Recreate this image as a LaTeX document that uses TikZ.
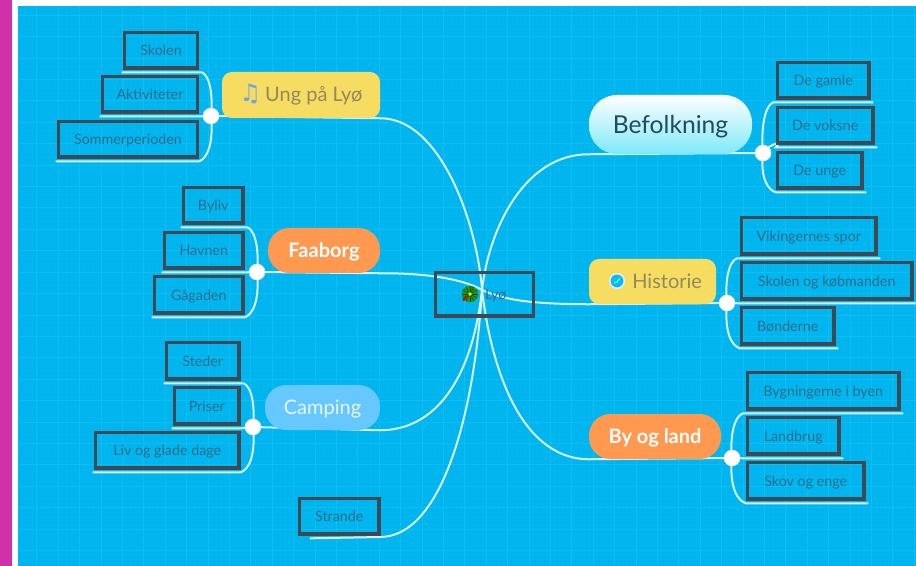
\documentclass[tikz,border=0pt]{standalone}
\usepackage{fontspec}
\setmainfont{Lato}
\newfontfamily\symf{DejaVu Sans}
\usetikzlibrary{backgrounds}
\definecolor{bgblue}{HTML}{00B4EE}
\definecolor{gridmaj}{HTML}{0CBEF2}
\definecolor{gridmin}{HTML}{03B6EF}
\definecolor{boxedge}{HTML}{3F4953}
\definecolor{smalltxt}{HTML}{2F6C8A}
\definecolor{linkc}{HTML}{D6F3FC}
\definecolor{yel}{HTML}{F6DD62}
\definecolor{yeltxt}{HTML}{8F8A60}
\definecolor{org}{HTML}{FF9950}
\definecolor{lblue}{HTML}{66C8FF}
\definecolor{mag}{HTML}{D030A8}
\definecolor{notec}{HTML}{6FA3E8}
\tikzset{
  x=0.75pt,y=-0.75pt,
  boxnode/.style={draw=boxedge,line width=2.5pt,text=smalltxt,font=\fontsize{10.7}{12}\selectfont,inner sep=0pt,text height=8pt,text depth=0pt},
  topic/.style={rounded corners=7.5pt,inner sep=0pt,text height=10.5pt,text depth=0pt},
  yeltopic/.style={topic,fill=yel,text=yeltxt,font=\fontsize{15}{18}\selectfont},
  orgtopic/.style={topic,rounded corners=16pt,fill=org,text=white,font=\fontsize{15}{17}\bfseries\selectfont},
  camptopic/.style={topic,rounded corners=16pt,fill=lblue,text=white!85!lblue,font=\fontsize{15}{18}\selectfont},
  whitetopic/.style={topic,rounded corners=21pt,top color=white,bottom color=white!70!cyan!70!bgblue,text=black!30!smalltxt,font=\fontsize{18.5}{22}\selectfont,text height=14pt},
  junction/.style={circle,fill=white,draw=black!12,line width=0.5pt,minimum size=12pt,inner sep=0pt},
  link/.style={draw=linkc,line width=1.5pt},
}
\newcommand{\pnode}[7]{%
  \pgfmathsetmacro{\pw}{(#5-#3)*0.75}%
  \pgfmathsetmacro{\ph}{(#6-#4)*0.75}%
  \node[#1,minimum width=\pw pt,minimum height=\ph pt] (#2) at ({(#3+#5)/2},{(#4+#6)/2}) {#7};}
\begin{document}
\begin{tikzpicture}
\useasboundingbox (0,0) rectangle (916,566);
% nodes
\pnode{boxnode}{skolen}{124.5}{32.5}{197.5}{68}{Skolen}
\pnode{boxnode}{aktiv}{102.5}{76.5}{197.5}{112}{Aktiviteter}
\pnode{boxnode}{sommer}{58.5}{121.5}{197.5}{157}{Sommerperioden}
\pnode{yeltopic}{ung}{222}{72}{380}{118}{\textcolor{notec}{\symf\fontsize{18}{18}\selectfont ♫}\hspace{3pt}Ung på Lyø}
\pnode{boxnode}{byliv}{183.5}{187.5}{243}{223}{Byliv}
\pnode{boxnode}{havnen}{164.5}{232.5}{243}{268}{Havnen}
\pnode{boxnode}{gaagaden}{154.5}{276.5}{243}{313}{Gågaden}
\pnode{orgtopic}{faaborg}{268}{228}{380}{273}{Faaborg}
\pnode{boxnode}{steder}{166.5}{342.5}{239}{379}{Steder}
\pnode{boxnode}{priser}{174.5}{387.5}{239}{424}{Priser}
\pnode{boxnode}{liv}{95.5}{432.5}{239}{468}{Liv og glade dage}
\pnode{camptopic}{camping}{265}{385}{380}{430}{Camping}
\pnode{boxnode}{strande}{299.5}{498.5}{379}{534}{Strande}
\pnode{boxnode}{lyo}{435.5}{272.5}{533.5}{316}{\hspace*{17pt}Lyø}
\pnode{whitetopic}{befolk}{589}{95}{752}{154}{Befolkning}
\pnode{boxnode}{gamle}{777.5}{62.5}{869}{98}{De gamle}
\pnode{boxnode}{voksne}{777.5}{107.5}{873}{143}{De voksne}
\pnode{boxnode}{unge}{777.5}{152.5}{862}{188}{De unge}
\pnode{yeltopic}{historie}{589}{259}{716}{304}{\hspace*{22pt}Historie}
\pnode{boxnode}{viking}{741.5}{217.5}{876}{254}{Vikingernes spor}
\pnode{boxnode}{kobmand}{741.5}{262.5}{912}{299}{Skolen og købmanden}
\pnode{boxnode}{bonder}{741.5}{307.5}{834}{344}{Bønderne}
\pnode{orgtopic}{byland}{589}{414}{721}{459}{By og land}
\pnode{boxnode}{bygning}{747.5}{372.5}{899}{409}{Bygningerne i byen}
\pnode{boxnode}{landbrug}{747.5}{417.5}{839}{454}{Landbrug}
\pnode{boxnode}{skov}{747.5}{462.5}{864}{499}{Skov og enge}
\node[junction] (jung) at (211,116) {};
\node[junction] (jfaa) at (257,272) {};
\node[junction] (jcam) at (253,427) {};
\node[junction] (jbef) at (763,153) {};
\node[junction] (jhis) at (727,303) {};
\node[junction] (jby) at (732,458) {};
\coordinate (hub) at (482,290);
% flower icon
\fill[green!50!black!85!white] (470,294) circle (6.2pt);
\foreach \a in {0,30,...,330}
  \draw[green!35!black,line width=0.4pt] (470,294) -- ++(\a:6.2pt);
\fill[red!85!black] (470,294) -- ++(215:7pt) -- ++(305:1.8pt) -- cycle;
\fill[yellow] (470,294) circle (1.4pt);
% clock icon
\fill[white!85!gray] (617,281) circle (6pt);
\fill[blue!25!cyan!85!bgblue] (617,281) circle (4.8pt);
\draw[white,line width=0.4pt] (614,283) -- (617,282) -- (620,278);
% connectors and background
\begin{scope}[on background layer]
  \fill[white] (0,0) rectangle (916,566);
  \fill[mag] (0,0) rectangle (12,566);
  \fill[bgblue] (18,6) rectangle (916,566);
  \begin{scope}
    \clip (18,6) rectangle (916,566);
    \foreach \i in {0,...,210} \draw[gridmin,line width=0.3pt] ({15.3+\i*4.28},6) -- ({15.3+\i*4.28},566);
    \foreach \i in {0,...,130} \draw[gridmin,line width=0.3pt] (18,{2.4+\i*4.28}) -- (916,{2.4+\i*4.28});
    \foreach \i in {0,...,42} \draw[gridmaj,line width=0.6pt] ({15.3+\i*21.4},6) -- ({15.3+\i*21.4},566);
    \foreach \i in {0,...,26} \draw[gridmaj,line width=0.6pt] (18,{15.3+\i*21.4}) -- (916,{15.3+\i*21.4});
  \end{scope}
  % centre to topics
  \draw[link] (jung.center) -- (ung.south east) .. controls (440,118) and (477,222) .. (hub);
  \draw[link] (jfaa.center) -- (faaborg.south east) .. controls (430,273) and (465,280) .. (hub);
  \draw[link] (jcam.center) -- (camping.south east) .. controls (435,430) and (472,380) .. (hub);
  \draw[link] (hub) .. controls (474,420) and (440,537) .. (380,537) -- ([xshift=9pt,yshift=-2pt]strande.south west);
  \draw[link] (jbef.center) -- (befolk.south west) .. controls (525,154) and (489,228) .. (hub);
  \draw[link] (hub) .. controls (505,300) and (530,304) .. (historie.south west) -- (jhis.center);
  \draw[link] (jby.center) -- (byland.south west) .. controls (530,459) and (494,390) .. (hub);
  % junctions to leaves
  \draw[link] (jung.center) .. controls (214,86) and (206,70) .. ([yshift=-2pt]skolen.south east) -- ([yshift=-2pt,xshift=-1pt]skolen.south west);
  \draw[link] (jung.center) -- ([yshift=-2pt]aktiv.south east) -- ([yshift=-2pt,xshift=-1pt]aktiv.south west);
  \draw[link] (jung.center) .. controls (214,146) and (206,159) .. ([yshift=-2pt]sommer.south east) -- ([yshift=-2pt,xshift=-1pt]sommer.south west);
  \draw[link] (jfaa.center) .. controls (260,242) and (252,225) .. ([yshift=-2pt]byliv.south east) -- ([yshift=-2pt,xshift=-1pt]byliv.south west);
  \draw[link] (jfaa.center) -- ([yshift=-2pt]havnen.south east) -- ([yshift=-2pt,xshift=-1pt]havnen.south west);
  \draw[link] (jfaa.center) .. controls (260,302) and (252,315) .. ([yshift=-2pt]gaagaden.south east) -- ([yshift=-2pt,xshift=-1pt]gaagaden.south west);
  \draw[link] (jcam.center) .. controls (256,397) and (248,381) .. ([yshift=-2pt]steder.south east) -- ([yshift=-2pt,xshift=-1pt]steder.south west);
  \draw[link] (jcam.center) -- ([yshift=-2pt]priser.south east) -- ([yshift=-2pt,xshift=-1pt]priser.south west);
  \draw[link] (jcam.center) .. controls (256,457) and (248,470) .. ([yshift=-2pt]liv.south east) -- ([yshift=-2pt,xshift=-1pt]liv.south west);
  \draw[link] (jbef.center) .. controls (760,120) and (768,100) .. ([yshift=-2pt]gamle.south west) -- ([yshift=-2pt,xshift=2pt]gamle.south east);
  \draw[link] (jbef.center) .. controls +(3,-7) and +(8,-8) .. ([yshift=-2pt]voksne.south west) -- ([yshift=-2pt,xshift=2pt]voksne.south east);
  \draw[link] (jbef.center) .. controls (760,178) and (768,190) .. ([yshift=-2pt]unge.south west) -- ([yshift=-2pt,xshift=2pt]unge.south east);
  \draw[link] (jhis.center) .. controls (724,273) and (732,256) .. ([yshift=-2pt]viking.south west) -- ([yshift=-2pt,xshift=2pt]viking.south east);
  \draw[link] (jhis.center) -- ([yshift=-2pt]kobmand.south west) -- ([yshift=-2pt,xshift=2pt]kobmand.south east);
  \draw[link] (jhis.center) .. controls (724,333) and (732,346) .. ([yshift=-2pt]bonder.south west) -- ([yshift=-2pt,xshift=2pt]bonder.south east);
  \draw[link] (jby.center) .. controls (729,428) and (738,411) .. ([yshift=-2pt]bygning.south west) -- ([yshift=-2pt,xshift=2pt]bygning.south east);
  \draw[link] (jby.center) -- ([yshift=-2pt]landbrug.south west) -- ([yshift=-2pt,xshift=2pt]landbrug.south east);
  \draw[link] (jby.center) .. controls (729,488) and (738,501) .. ([yshift=-2pt]skov.south west) -- ([yshift=-2pt,xshift=2pt]skov.south east);
\end{scope}
\end{tikzpicture}
\end{document}
